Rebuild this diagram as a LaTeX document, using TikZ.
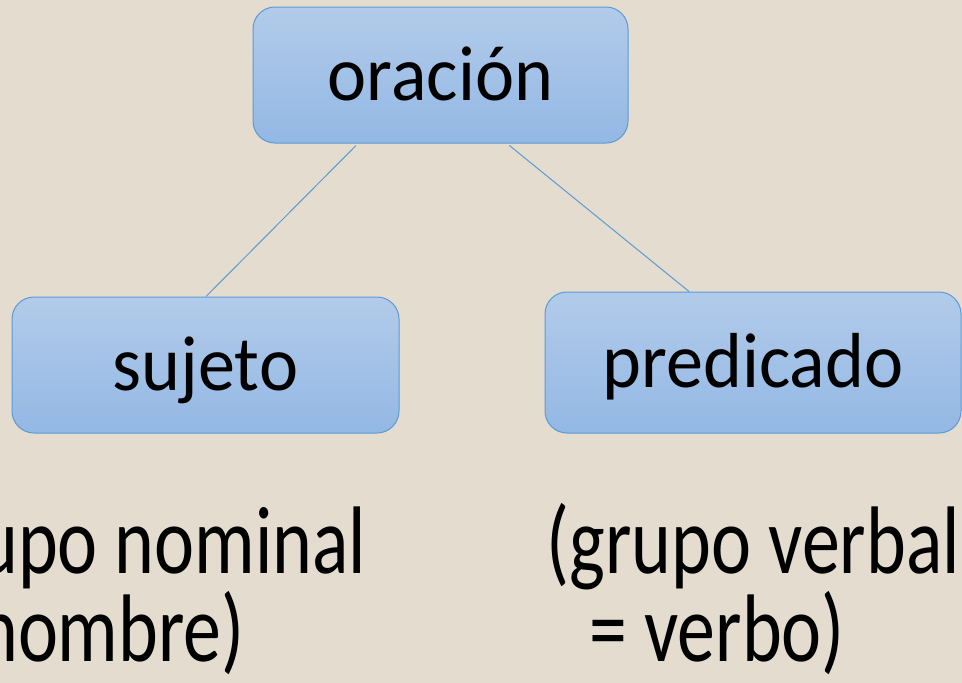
\documentclass[tikz,border=0pt]{standalone}
\usepackage{fontspec}
\setmainfont{Carlito}
\newfontfamily\boxfont{Carlito}[FakeStretch=0.95]
\newfontfamily\notefont{Carlito}[FakeStretch=0.79]
\definecolor{paper}{RGB}{228,220,206}
\definecolor{boxtop}{RGB}{178,203,234}
\definecolor{boxbot}{RGB}{147,184,228}
\definecolor{boxline}{RGB}{91,155,213}
\begin{document}
\begin{tikzpicture}[x=1pt, y=-1pt,
    word/.style={rectangle, rounded corners=22pt, draw=boxline, line width=1pt,
        top color=boxtop, bottom color=boxbot, inner sep=0pt,
        font=\boxfont\fontsize{78}{90}\selectfont, text height=62pt, text depth=12pt},
    link/.style={draw=boxline, line width=1pt, shorten <=3pt},
    note/.style={font=\notefont\fontsize{96}{88}\selectfont, align=left, inner sep=0pt}
]
    % Background
    \fill[paper] (0,0) rectangle (962,683);
    \useasboundingbox (0,0) rectangle (962,683);

    % Boxes
    \node[word, minimum width=375pt, minimum height=136pt] (oracion) at (440.5,75) {oración};
    \node[word, minimum width=387pt, minimum height=136pt] (sujeto) at (205.5,365) {sujeto};
    \node[word, minimum width=416pt, minimum height=141pt] (predicado) at (753,362.5) {predicado};

    % Links
    \draw[link] ([xshift=-82.5pt]oracion.south) -- ([xshift=0.5pt]sujeto.north);
    \draw[link] ([xshift=66.5pt]oracion.south) -- ([xshift=-64pt]predicado.north);

    % Notes
    \node[note, anchor=base west] (nominal) at (-22,661) {upo nominal\\nombre)};
    \node[note, anchor=base west] (verbal) at (546,661) {(grupo verbal\\\hspace*{0.45em}= verbo)};

\end{tikzpicture}
\end{document}
